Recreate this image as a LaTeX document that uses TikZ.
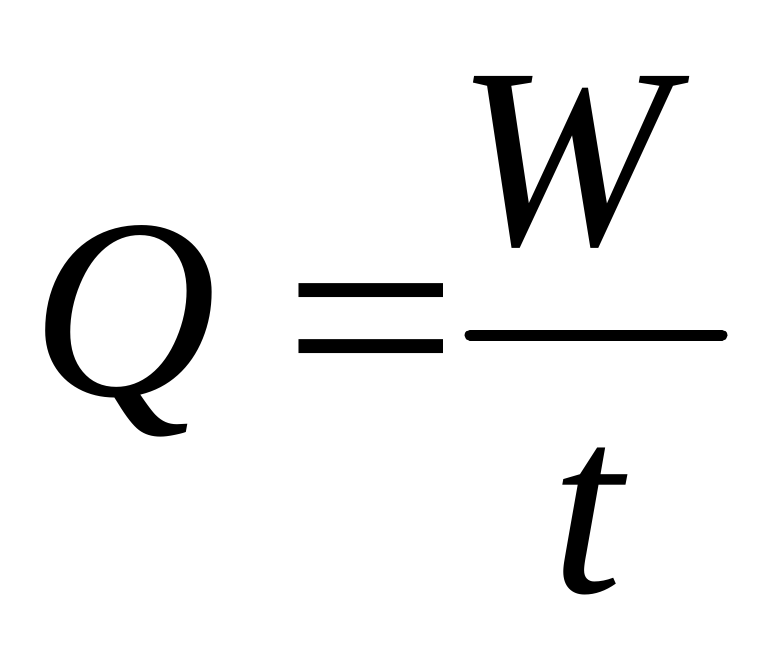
\documentclass[tikz,border=0pt]{standalone}
\usepackage{fontspec}
\setmainfont{Liberation Serif}
\tikzset{
  letter/.style={inner sep=0, font=\fontsize{73}{80}\selectfont\itshape},
  sign/.style={inner sep=0, font=\fontsize{73}{80}\selectfont}
}
\begin{document}
\begin{tikzpicture}[x=0.01cm, y=-0.01cm]
		%%%%% START %%%%%
		\useasboundingbox (0, 0) rectangle (772, 647);
		
		\node[letter, anchor=base west] (q) at (31, 395) {Q};
		\node[sign] (eq) at (371, 348) {\scalebox{1.21}[1.09]{=}};
		
		\coordinate (barL) at (470, 335);
		\coordinate (barR) at (722, 335);
		\draw[line width=0.11cm, line cap=round] (barL) -- (barR);
		
		\node[letter, anchor=base] (w) at (563, 244) {W};
		\node[letter, anchor=base] (t) at (587, 592) {t};
		%%%%% END %%%%%
	\end{tikzpicture}
\end{document}
